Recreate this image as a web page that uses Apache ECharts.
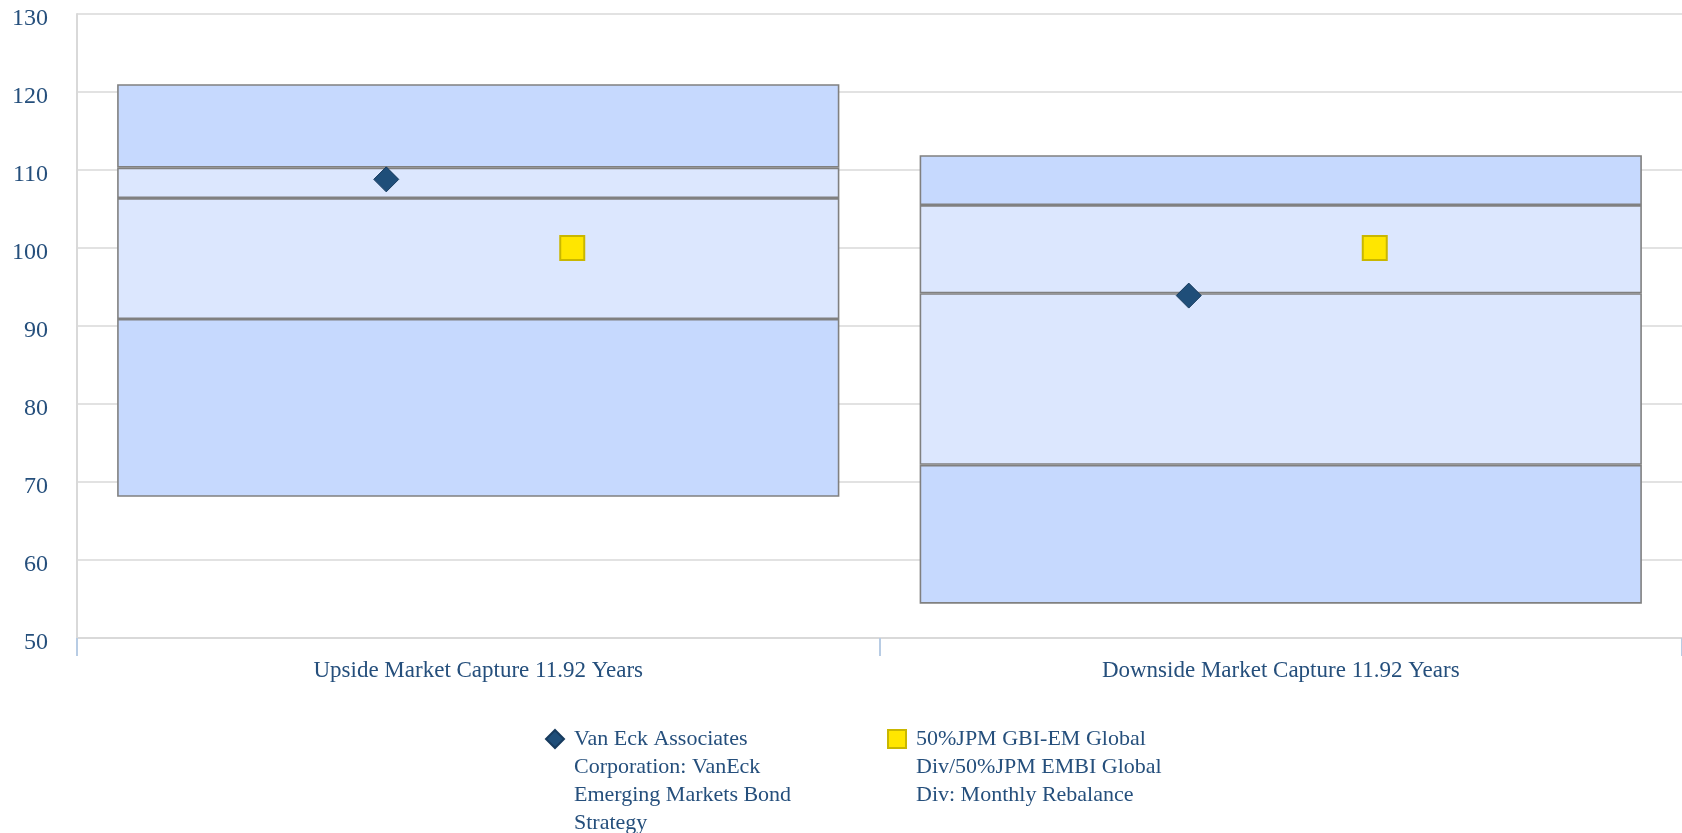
<!DOCTYPE html>
<html>
<head>
<meta charset="utf-8">
<script src="https://cdn.jsdelivr.net/npm/echarts@6/dist/echarts.min.js"></script>
<style>
html,body{margin:0;padding:0;background:#fff;}
#chart{width:1682px;height:833px;}
</style>
</head>
<body>
<div id="chart"></div>
<script>
const categories = ['Upside Market Capture 11.92 Years', 'Downside Market Capture 11.92 Years'];
const yTicks = [50, 130, 10];
// box boundaries (bottom to top)
const p5 = [68.1, 54.4];
const p25 = [90.9, 72.2];
const p50 = [106.4, 94.2];
const p75 = [110.3, 105.5];
const p95 = [121.0, 111.9];
const fundName = 'Van Eck Associates Corporation: VanEck Emerging Markets Bond Strategy';
const benchName = '50%JPM GBI-EM Global Div/50%JPM EMBI Global Div: Monthly Rebalance';
const fundValues = [108.8, 93.9];
const benchValues = [100.0, 100.0];

const DARK = '#c6d9fe';
const LIGHT = '#dce7fe';
const BORDER = '#808080';
const TXT = '#254f7c';
const FONT = '"Liberation Serif", "Times New Roman", serif';
const LH = 28;

function diff(a, b) { return a.map((v, i) => +(v - b[i]).toFixed(3)); }

function seg(name, data, color) {
  return {
    name: name, type: 'bar', stack: 'box', barWidth: '90%', data: data,
    itemStyle: { color: color, borderColor: color === 'transparent' ? 'transparent' : BORDER,
                 borderWidth: color === 'transparent' ? 0 : 1.6 },
    emphasis: { disabled: true }, silent: true
  };
}

// blank lines placed before each legend name so its first line sits level with the icon
const legendLeadLines = {};
legendLeadLines[fundName] = 3;
legendLeadLines[benchName] = 2;

const chart = echarts.init(document.getElementById('chart'), null, { renderer: 'canvas' });
chart.setOption({
  animation: false,
  backgroundColor: '#ffffff',
  grid: { left: 77, right: 0, top: 14, bottom: 195, containLabel: false },
  legend: {
    left: 545, top: 641, padding: 0, itemGap: 48, itemWidth: 18, itemHeight: 18,
    selectedMode: false,
    data: [fundName, benchName],
    formatter: function (name) { return '\n'.repeat(legendLeadLines[name] || 0) + name; },
    textStyle: { color: TXT, fontFamily: FONT, fontSize: 22, lineHeight: LH, width: 265, overflow: 'break', padding: [0, 0, 0, 5] }
  },
  xAxis: {
    type: 'category', data: categories, boundaryGap: true,
    axisLine: { show: true, lineStyle: { color: '#d9d9d9', width: 2 } },
    axisTick: { show: true, length: 18, lineStyle: { color: '#b8cce4', width: 2 } },
    axisLabel: { color: TXT, fontFamily: FONT, fontSize: 23, margin: 21 },
    splitLine: { show: false }
  },
  yAxis: {
    type: 'value', min: yTicks[0], max: yTicks[1], interval: yTicks[2],
    axisLine: { show: true, lineStyle: { color: '#d9d9d9', width: 2 } },
    axisTick: { show: false },
    axisLabel: { color: TXT, fontFamily: FONT, fontSize: 24, margin: 29, verticalAlign: 'top', lineHeight: 10 },
    splitLine: { show: true, lineStyle: { color: '#d9d9d9', width: 1.5 } }
  },
  series: [
    seg('base', p5, 'transparent'),
    seg('s1', diff(p25, p5), DARK),
    seg('s2', diff(p50, p25), LIGHT),
    seg('s3', diff(p75, p50), LIGHT),
    seg('s4', diff(p95, p75), DARK),
    {
      name: fundName, type: 'scatter', data: fundValues, symbol: 'diamond', symbolSize: 25,
      symbolOffset: [-92, 0], z: 5,
      itemStyle: { color: '#1f4e79', borderColor: '#173b5e', borderWidth: 1, opacity: 1 }
    },
    {
      name: benchName, type: 'scatter', data: benchValues, symbol: 'rect', symbolSize: 24,
      symbolOffset: [94, 0], z: 5,
      itemStyle: { color: '#ffe600', borderColor: '#c9b700', borderWidth: 2, opacity: 1 }
    }
  ]
});
</script>
</body>
</html>
